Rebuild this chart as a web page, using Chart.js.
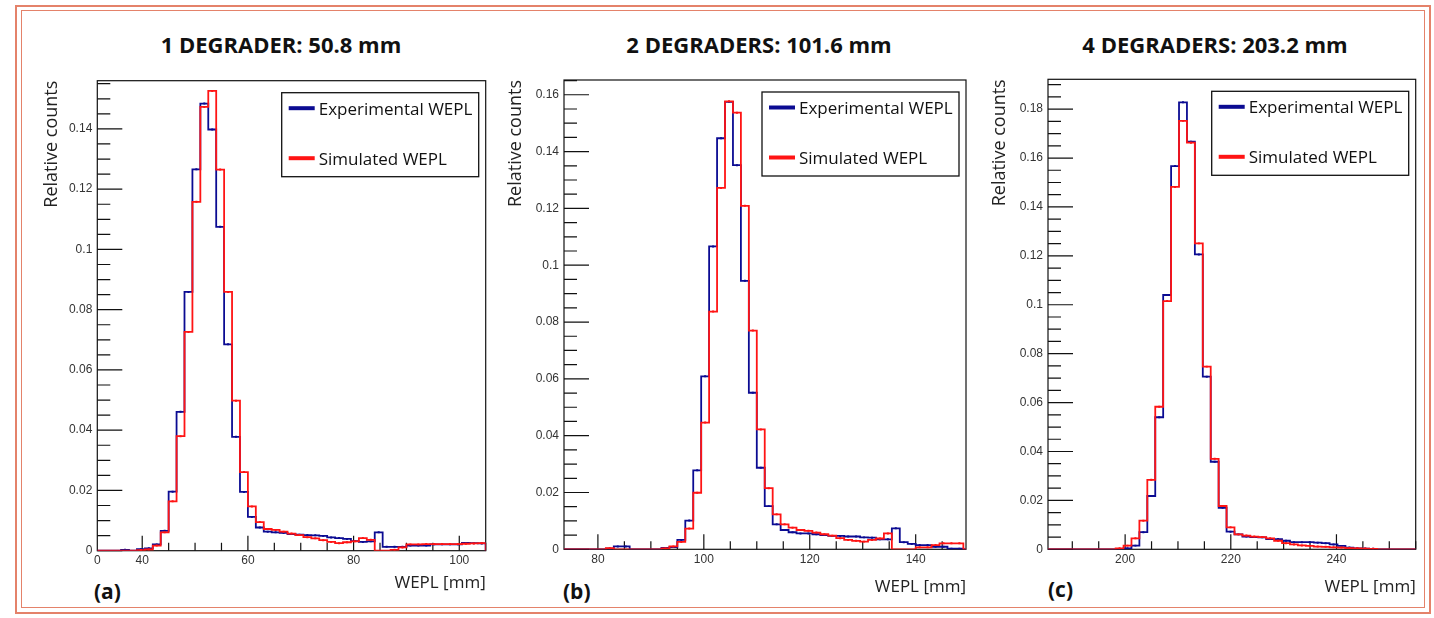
<!DOCTYPE html>
<html>
<head>
<meta charset="utf-8">
<title>WEPL distributions</title>
<script src="https://cdn.jsdelivr.net/npm/chart.js@4.4.1/dist/chart.umd.min.js"></script>
<style>
  html, body { margin: 0; padding: 0; background: #fff; }
  body { width: 1434px; height: 618px; position: relative; overflow: hidden; font-family: "Open Sans", sans-serif; }
  .frame { position: absolute; border: 2px solid #e4826a; box-sizing: border-box; }
  .outer { left: 15px; top: 5px; width: 1416px; height: 609px; }
  .inner { left: 21px; top: 10px; width: 1404px; height: 598px; border-width: 1.5px; }
  .title { position: absolute; top: 33px; font-weight: 700; font-size: 22px; line-height: 22px; color: #111; transform: translateX(-50%); white-space: nowrap; }
  .tag { position: absolute; top: 581px; font-weight: 700; font-size: 21px; line-height: 21px; color: #111; }
  canvas { position: absolute; }
</style>
</head>
<body>
<div class="frame outer"></div>
<div class="frame inner"></div>
<div class="title" style="left:281px">1 DEGRADER: 50.8 mm</div>
<div class="title" style="left:759px">2 DEGRADERS: 101.6 mm</div>
<div class="title" style="left:1215px">4 DEGRADERS: 203.2 mm</div>
<div class="tag" style="left:94px">(a)</div>
<div class="tag" style="left:563px">(b)</div>
<div class="tag" style="left:1048px;top:579px">(c)</div>

<script>
const BIN_WIDTH = 1.5;
const EXP_COLOR = "#0b0b92";
const SIM_COLOR = "#ff1414";
const TICK_FONT = {family: "Liberation Sans", size: 12};
const LABEL_FONT = {family: "Open Sans", size: 17};

// (a) 1 degrader, bins start at 36 mm
const binStartA = 36;
const expA = [0.0003, 0, 0.0005, 0.0008, 0.0021, 0.0066, 0.0196, 0.0461, 0.0859, 0.1266, 0.1484, 0.1398,
  0.1075, 0.0685, 0.0378, 0.0195, 0.0112, 0.0077, 0.0063, 0.0061, 0.0059, 0.0055, 0.0053, 0.0052,
  0.0051, 0.0049, 0.0044, 0.0042, 0.0039, 0.0032, 0.0029, 0.0031, 0.0061, 0.0013, 0.0013, 0.0013,
  0.0017, 0.0017, 0.0017, 0.0021, 0.0021, 0.0021, 0.0021, 0.0026, 0.0025, 0.0024];
const simA = [0, 0, 0.0002, 0.0004, 0.0017, 0.0061, 0.0164, 0.0380, 0.0726, 0.1158, 0.1473, 0.1526,
  0.1265, 0.0859, 0.0498, 0.0261, 0.0147, 0.0095, 0.0072, 0.0069, 0.0063, 0.0057, 0.0052, 0.0045,
  0.0041, 0.0035, 0.0029, 0.0025, 0.0028, 0.0031, 0.0042, 0.0036, 0, 0, 0.0003, 0.0011,
  0.0021, 0.0021, 0.0022, 0.0022, 0.0022, 0.0022, 0.0022, 0.0023, 0.0024, 0.0025];
const xTicksA = [31.5, 40, 60, 80, 100];
const xLabelsA = ["0", "40", "60", "80", "100"];
const yTicksA = [0, 0.02, 0.04, 0.06, 0.08, 0.1, 0.12, 0.14];

// (b) 2 degraders, bins start at 81.5 mm
const binStartB = 81.5;
const expB = [0.0002, 0.0010, 0.0010, 0, 0, 0, 0, 0.0005, 0.0008, 0.0033, 0.0101, 0.0278, 0.0609,
  0.1066, 0.1447, 0.1575, 0.1352, 0.0945, 0.0551, 0.0287, 0.0152, 0.0088, 0.0068, 0.0060, 0.0056,
  0.0056, 0.0053, 0.0050, 0.0047, 0.0047, 0.0045, 0.0045, 0.0042, 0.0041, 0.0035, 0.0035, 0.0074,
  0.0025, 0.0019, 0.0015, 0.0015, 0.0009, 0.0009, 0.0002, 0.0002];
const simB = [0.0004, 0, 0, 0, 0, 0, 0, 0.0003, 0.0010, 0.0026, 0.0073, 0.0199, 0.0446,
  0.0837, 0.1272, 0.1577, 0.1537, 0.1209, 0.0770, 0.0422, 0.0215, 0.0123, 0.0088, 0.0076, 0.0068,
  0.0065, 0.0059, 0.0053, 0.0048, 0.0039, 0.0033, 0.0030, 0.0027, 0.0033, 0.0038, 0.0056, 0,
  0, 0, 0.0007, 0.0007, 0.0015, 0.0021, 0.0021, 0.0021];
const xTicksB = [80, 100, 120, 140];
const xLabelsB = ["80", "100", "120", "140"];
const yTicksB = [0, 0.02, 0.04, 0.06, 0.08, 0.1, 0.12, 0.14, 0.16];

// (c) 4 degraders, bins start at 198.2 mm
const binStartC = 198.2;
const expC = [0, 0.0004, 0.0015, 0.0070, 0.0218, 0.0540, 0.1040, 0.1567, 0.1828, 0.1667, 0.1206,
  0.0706, 0.0358, 0.0170, 0.0072, 0.0061, 0.0052, 0.0050, 0.0049, 0.0042, 0.0042, 0.0035, 0.0029,
  0.0029, 0.0029, 0.0027, 0.0025, 0.0020, 0.0014, 0.0007, 0.0004, 0.0003, 0.0002];
const simC = [0.0004, 0.0015, 0.0045, 0.0117, 0.0284, 0.0583, 0.1015, 0.1482, 0.1752, 0.1663, 0.1251,
  0.0747, 0.0370, 0.0177, 0.0090, 0.0061, 0.0056, 0.0052, 0.0050, 0.0045, 0.0035, 0.0025, 0.0020,
  0.0016, 0.0014, 0.0011, 0.0010, 0.0008, 0.0007, 0.0005, 0.0004, 0.0003, 0.0002];
const xTicksC = [200, 220, 240];
const xLabelsC = ["200", "220", "240"];
const yTicksC = [0, 0.02, 0.04, 0.06, 0.08, 0.1, 0.12, 0.14, 0.16, 0.18];

// histogram outline: one point per bin left edge, stepped
const toSteps = (start, values, xMin, xMax) => {
  const pts = [{x: xMin, y: 0}];
  values.forEach((v, i) => pts.push({x: start + i * BIN_WIDTH, y: v}));
  const end = start + values.length * BIN_WIDTH;
  pts.push({x: end, y: 0});
  if (end < xMax) pts.push({x: xMax, y: 0});
  return pts;
};
// small markers at bin centres
const toMarks = (start, values) => values
  .map((v, i) => ({x: start + (i + 0.5) * BIN_WIDTH, y: v}))
  .filter(p => p.y > 0);

// ROOT-like frame with inward ticks and a boxed legend
const rootFrame = {
  id: "rootFrame",
  beforeDatasetsDraw(chart, args, opts) {
    const {ctx, chartArea: a, scales: {x, y}} = chart;
    ctx.save();
    ctx.strokeStyle = "#111";
    ctx.lineWidth = 1.2;
    ctx.strokeRect(a.left, a.top, a.right - a.left, a.bottom - a.top);
    ctx.beginPath();
    for (let i = 0; i * 0.005 <= y.max + 1e-9; i++) {
      const py = y.getPixelForValue(i * 0.005);
      ctx.moveTo(a.left, py);
      ctx.lineTo(a.left + (i % 4 === 0 ? 25 : 13), py);
    }
    for (let v = opts.minorFrom; v <= x.max + 1e-9; v += 5) {
      const px = x.getPixelForValue(v);
      ctx.moveTo(px, a.bottom);
      ctx.lineTo(px, a.bottom - (v % 20 === 0 ? 15 : 8));
    }
    ctx.stroke();
    ctx.restore();
  },
  afterDatasetsDraw(chart) {
    const {ctx, chartArea: a} = chart;
    const w = 197, h = 84;
    const left = a.right - 7 - w, top = a.top + 12;
    ctx.save();
    ctx.fillStyle = "#fff";
    ctx.fillRect(left, top, w, h);
    ctx.strokeStyle = "#111";
    ctx.lineWidth = 1.3;
    ctx.strokeRect(left, top, w, h);
    const entries = chart.data.datasets.filter(d => d.inLegend);
    entries.forEach((d, i) => {
      const ly = top + 15.5 + i * 50;
      ctx.strokeStyle = d.borderColor;
      ctx.lineWidth = 4;
      ctx.beginPath();
      ctx.moveTo(left + 7, ly);
      ctx.lineTo(left + 33, ly);
      ctx.stroke();
      ctx.fillStyle = "#111";
      ctx.font = "17px 'Open Sans'";
      ctx.textBaseline = "middle";
      ctx.fillText(d.label, left + 37, ly + 1.5);
    });
    ctx.restore();
  }
};

const getConfig = (p) => ({
  type: "line",
  data: {
    datasets: [
      {label: "Experimental WEPL", inLegend: true, data: toSteps(p.start, p.exp, p.xMin, p.xMax),
        borderColor: EXP_COLOR, borderWidth: 1.8, stepped: true, pointRadius: 0, order: 3},
      {label: "Simulated WEPL", inLegend: true, data: toSteps(p.start, p.sim, p.xMin, p.xMax),
        borderColor: SIM_COLOR, borderWidth: 1.8, stepped: true, pointRadius: 0, order: 1},
      {label: "exp markers", data: toMarks(p.start, p.exp), showLine: false,
        pointStyle: "rect", pointRadius: 1.4, backgroundColor: EXP_COLOR, borderWidth: 0, order: 2},
      {label: "sim markers", data: toMarks(p.start, p.sim), showLine: false,
        pointStyle: "rect", pointRadius: 1.4, backgroundColor: SIM_COLOR, borderWidth: 0, order: 0}
    ]
  },
  options: {
    responsive: false,
    animation: false,
    layout: {padding: {top: p.pad.top, right: p.pad.right, left: 0, bottom: 0}},
    plugins: {
      legend: {display: false},
      tooltip: {enabled: false},
      rootFrame: {minorFrom: p.minorFrom}
    },
    scales: {
      x: {
        type: "linear",
        min: p.xMin,
        max: p.xMax,
        grid: {display: false, drawTicks: false},
        border: {display: false},
        afterBuildTicks: s => { s.ticks = p.xTicks.map(v => ({value: v})); },
        afterFit: s => { s.height = p.xHeight; },
        ticks: {autoSkip: false, maxRotation: 0, padding: 3, color: "#333", font: TICK_FONT,
          callback: (v, i) => p.xLabels[i]},
        title: {display: true, text: "WEPL [mm]", align: "end", color: "#222", font: LABEL_FONT,
          padding: {top: 0, bottom: p.xTitlePad}}
      },
      y: {
        min: 0,
        max: p.yMax,
        grid: {display: false, drawTicks: false},
        border: {display: false},
        afterBuildTicks: s => { s.ticks = p.yTicks.map(v => ({value: v})); },
        afterFit: s => { s.width = p.yWidth; },
        ticks: {padding: 5, color: "#333", font: TICK_FONT, callback: v => String(+v.toFixed(3))},
        title: {display: true, text: "Relative counts", align: "end", color: "#222",
          font: {family: "Open Sans", size: 18}, padding: {top: p.yTitlePad, bottom: 0}}
      }
    }
  },
  plugins: [rootFrame]
});

const panels = [
  {start: binStartA, exp: expA, sim: simA, xMin: 31.5, xMax: 105, yMax: 0.156,
    xTicks: xTicksA, xLabels: xLabelsA, yTicks: yTicksA, minorFrom: 40,
    box: {left: 30, top: 20, width: 470, height: 592}, pad: {top: 60.7, right: 14.3},
    yWidth: 67.3, xHeight: 61.3, yTitlePad: 10.7, xTitlePad: 18.8},
  {start: binStartB, exp: expB, sim: simB, xMin: 73.6, xMax: 149.5, yMax: 0.1652,
    xTicks: xTicksB, xLabels: xLabelsB, yTicks: yTicksB, minorFrom: 80,
    box: {left: 490, top: 20, width: 490, height: 592}, pad: {top: 60, right: 14},
    yWidth: 74, xHeight: 62.7, yTitlePad: 14.9, xTitlePad: 15.1},
  {start: binStartC, exp: expC, sim: simC, xMin: 185.4, xMax: 255, yMax: 0.1922,
    xTicks: xTicksC, xLabels: xLabelsC, yTicks: yTicksC, minorFrom: 190,
    box: {left: 975, top: 20, width: 455, height: 592}, pad: {top: 59.3, right: 14.3},
    yWidth: 73, xHeight: 62.7, yTitlePad: 14.2, xTitlePad: 14.8}
];

panels.forEach(p => {
  const canvas = document.createElement("canvas");
  canvas.width = p.box.width;
  canvas.height = p.box.height;
  canvas.style.left = p.box.left + "px";
  canvas.style.top = p.box.top + "px";
  document.body.appendChild(canvas);
  new Chart(canvas.getContext("2d"), getConfig(p));
});
</script>
</body>
</html>
